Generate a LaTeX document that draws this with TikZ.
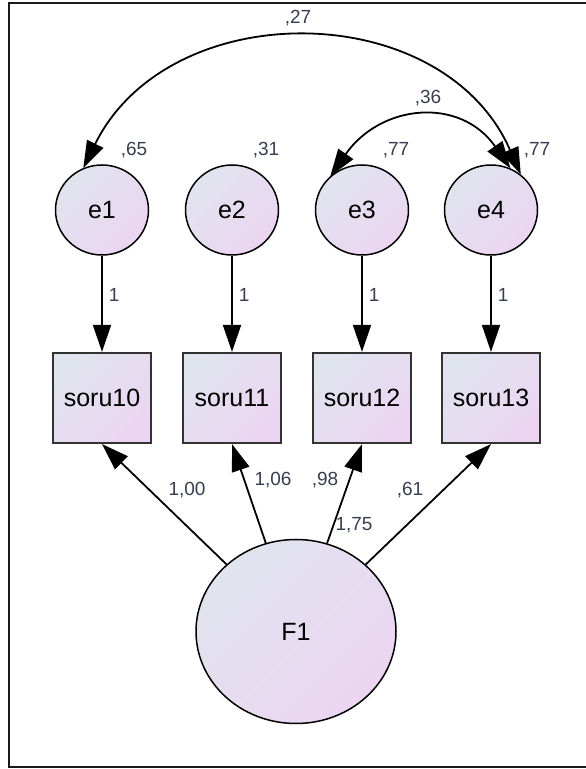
\documentclass[tikz,border=0pt]{standalone}
\usepackage{fontspec}
\setmainfont{Liberation Sans}
\usetikzlibrary{arrows.meta,shapes.geometric}
\definecolor{fillA}{RGB}{224,228,238}
\definecolor{fillB}{RGB}{236,213,242}
\definecolor{numcol}{RGB}{55,62,80}
\begin{document}
\begin{tikzpicture}[x=1pt,y=1pt,
  latent/.style={ellipse, draw=black, line width=1.5pt, top color=fillA, bottom color=fillB, shading angle=45, inner sep=0pt, font=\fontsize{25}{25}\selectfont},
  errv/.style={latent, minimum width=93pt, minimum height=90pt},
  obs/.style={rectangle, draw=black!80, line width=2.2pt, top color=fillA, bottom color=fillB, shading angle=45, minimum width=98pt, minimum height=90pt, inner sep=0pt, font=\fontsize{25}{25}\selectfont},
  lbl/.style={font=\fontsize{19}{19}\selectfont, text=numcol, inner sep=0pt},
  tip/.tip={Triangle[length=27pt,width=18pt]},
  arr/.style={line width=1.8pt, -tip},
  both/.style={line width=1.8pt, tip-tip}]
\useasboundingbox (0,0) rectangle (586,769);
\draw[line width=2pt, black!90] (586,766) -- (9,766) -- (9,1.7) -- (586,1.7);
% error terms
\node[errv] (e1) at (102,559) {e1};
\node[errv] (e2) at (232,559) {e2};
\node[errv] (e3) at (362,559) {e3};
\node[errv] (e4) at (491,559) {e4};
% observed
\node[obs] (s10) at (102,371) {soru10};
\node[obs] (s11) at (232,371) {soru11};
\node[obs] (s12) at (362,371) {soru12};
\node[obs] (s13) at (491,371) {soru13};
% latent
\node[latent, minimum width=200pt, minimum height=184pt] (F1) at (296,137.5) {F1};
% error paths
\draw[arr] (e1) -- node[lbl, anchor=west, pos=0.41, xshift=6pt] {1} (s10);
\draw[arr] (e2) -- node[lbl, anchor=west, pos=0.41, xshift=6pt] {1} (s11);
\draw[arr] (e3) -- node[lbl, anchor=west, pos=0.41, xshift=6pt] {1} (s12);
\draw[arr] (e4) -- node[lbl, anchor=west, pos=0.41, xshift=6pt] {1} (s13);
% loadings
\draw[arr] (F1) -- (s10.south);
\draw[arr] (F1) -- (s11.south);
\draw[arr] (F1) -- (s12.south);
\draw[arr] (F1) -- (s13.south);
\node[lbl] (w10) at (187,279) {1,00};
\node[lbl] (w11) at (273,289) {1,06};
\node[lbl] (w12) at (325,289) {,98};
\node[lbl] (w13) at (410,279) {,61};
\node[lbl] (vF) at (354,244) {1,75};
% covariances
\draw[both] (e1.114) .. controls +(63.7:194) and +(113.7:194) .. (e4.50);
\draw[both] (e3.133) .. controls +(55:88) and +(125:88) .. (e4.65);
\node[lbl] (c14) at (298,751) {,27};
\node[lbl] (c34) at (428,671) {,36};
% variances
\node[lbl] (v1) at (134,619) {,65};
\node[lbl] (v2) at (266,619) {,31};
\node[lbl] (v3) at (396,619) {,77};
\node[lbl] (v4) at (537,619) {,77};
\end{tikzpicture}
\end{document}
